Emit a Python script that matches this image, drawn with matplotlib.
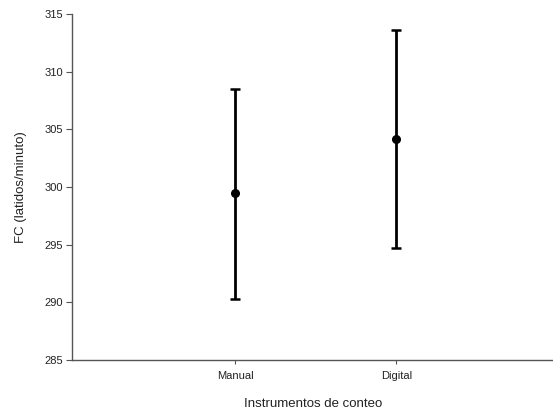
import matplotlib
matplotlib.use("Agg")
import matplotlib.pyplot as plt

# data
instrumentos = ["Manual", "Digital"]
media = [299.5, 304.2]
upper = [308.5, 313.6]
lower = [290.3, 294.7]

plt.rcParams["font.family"] = ["Liberation Sans", "DejaVu Sans"]

fig = plt.figure(figsize=(5.53, 4.17), dpi=100)
ax = fig.add_axes([0.131, 0.137, 0.869, 0.829])

xs = [1, 2]
yerr = [[m - lo for m, lo in zip(media, lower)], [up - m for m, up in zip(media, upper)]]
ax.errorbar(xs, media, yerr=yerr, fmt="o", color="black", ms=5.5,
            elinewidth=2.0, capsize=3.6, capthick=1.8, zorder=3)

ax.set_xlim(-0.012, 2.973)
ax.set_ylim(285, 315)
ax.set_yticks(range(285, 316, 5))
ax.set_xticks(xs)
ax.set_xticklabels(instrumentos)

for s in ("top", "right"):
    ax.spines[s].set_visible(False)
for s in ("left", "bottom"):
    ax.spines[s].set_color("#555555")
    ax.spines[s].set_linewidth(1.0)

ax.tick_params(axis="y", direction="out", length=4, color="#555555",
               labelsize=8, labelcolor="#222222", pad=3)
ax.tick_params(axis="x", direction="out", length=3, color="#555555",
               labelsize=8, labelcolor="#222222", pad=5)

ax.set_ylabel("FC (latidos/minuto)", fontsize=9.5, color="#222222", labelpad=12)
ax.set_xlabel("Instrumentos de conteo", fontsize=9.5, color="#222222", labelpad=12)

fig.savefig("out.png", dpi=100)
